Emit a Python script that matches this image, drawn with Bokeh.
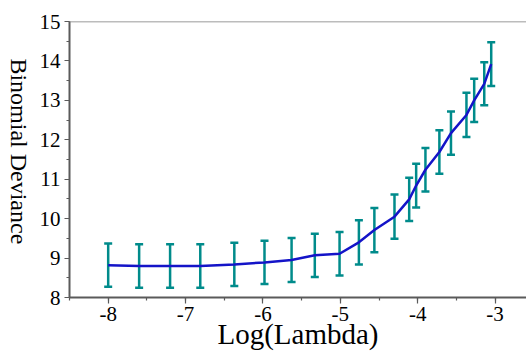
import math
from bokeh.plotting import figure
from bokeh.layouts import row
from bokeh.models import (ColumnDataSource, Whisker, TeeHead, SingleIntervalTicker,
                          Range1d, Span, PrintfTickFormatter, Label)
from bokeh.embed import file_html
from bokeh.resources import INLINE

# ---- data ----
log_lambda = [-8.00, -7.60, -7.20, -6.81, -6.37, -5.98, -5.63, -5.33, -5.01, -4.76,
              -4.56, -4.30, -4.11, -4.02, -3.90, -3.72, -3.57, -3.37, -3.27, -3.14, -3.05]
deviance = [8.82, 8.80, 8.80, 8.80, 8.84, 8.89, 8.95, 9.07, 9.11, 9.40,
            9.71, 10.05, 10.49, 10.84, 11.24, 11.69, 12.17, 12.63, 13.00, 13.42, 13.92]
std_err = [0.55, 0.55, 0.55, 0.55, 0.55, 0.55, 0.56, 0.55, 0.55, 0.56,
           0.56, 0.56, 0.55, 0.555, 0.55, 0.55, 0.55, 0.56, 0.55, 0.545, 0.555]

x_label = "Log(Lambda)"
y_label = "Binomial Deviance"

FONT = "'Liberation Serif', 'Times New Roman', serif"
TEAL = "#008B8B"
BLUE = "#1414C8"
AXIS = "#5a5a5a"
W, H = 526, 356
TITLE_W = 36      # strip holding the rotated y title

src = ColumnDataSource(dict(
    x=log_lambda,
    y=deviance,
    upper=[m + e for m, e in zip(deviance, std_err)],
    lower=[m - e for m, e in zip(deviance, std_err)],
))

# rotated y-axis title (reads top to bottom)
pt = figure(width=TITLE_W, height=H, output_backend="svg", toolbar_location=None,
            x_range=Range1d(0, TITLE_W), y_range=Range1d(0, H),
            x_axis_type=None, y_axis_type=None, min_border=0)
pt.outline_line_color = None
pt.xgrid.visible = False
pt.ygrid.visible = False
pt.add_layout(Label(x=18, y=H - 167.5, text=y_label, angle=-math.pi / 2,
                    text_align="center", text_baseline="middle",
                    text_font=FONT, text_font_size="24px", text_color="black"))

# main plot
p = figure(width=W - TITLE_W, height=H, output_backend="svg", toolbar_location=None,
           x_range=Range1d(-8.5, -2.594), y_range=Range1d(8, 15),
           min_border_left=68 - TITLE_W, min_border_right=0, min_border_top=21,
           min_border_bottom=H - 297)
p.outline_line_color = None
p.xgrid.visible = False
p.ygrid.visible = False

xax = p.xaxis[0]
yax = p.yaxis[0]
for ax in (xax, yax):
    ax.ticker = SingleIntervalTicker(interval=1, num_minor_ticks=2)
    ax.formatter = PrintfTickFormatter(format="%d")
    ax.axis_line_color = AXIS
    ax.axis_line_width = 2
    ax.major_tick_line_color = AXIS
    ax.minor_tick_line_color = AXIS
    ax.major_tick_line_width = 1.2
    ax.minor_tick_line_width = 1.2
    ax.major_tick_in = 0
    ax.major_tick_out = 5
    ax.minor_tick_in = 0
    ax.minor_tick_out = 3
    ax.major_label_text_font = FONT
    ax.major_label_text_font_size = "21px"
    ax.major_label_text_color = "black"

xax.major_tick_out = 6
xax.major_label_standoff = 3
yax.major_label_standoff = 4

xax.axis_label = x_label
xax.axis_label_text_font = FONT
xax.axis_label_text_font_size = "29px"
xax.axis_label_text_font_style = "normal"
xax.axis_label_text_color = "black"
xax.axis_label_standoff = -6

# top border line
p.add_layout(Span(location=15, dimension="width", line_color="#7a7a7a", line_width=1.5))

# error bars
p.add_layout(Whisker(source=src, base="x", upper="upper", lower="lower",
                     line_color=TEAL, line_width=2.5,
                     upper_head=TeeHead(size=8, line_color=TEAL, line_width=2.5),
                     lower_head=TeeHead(size=8, line_color=TEAL, line_width=2.5)))

# mean curve
p.line("x", "y", source=src, line_color=BLUE, line_width=2.5)

layout = row(pt, p, spacing=0)
open("out.html", "w").write(file_html(layout, INLINE))
